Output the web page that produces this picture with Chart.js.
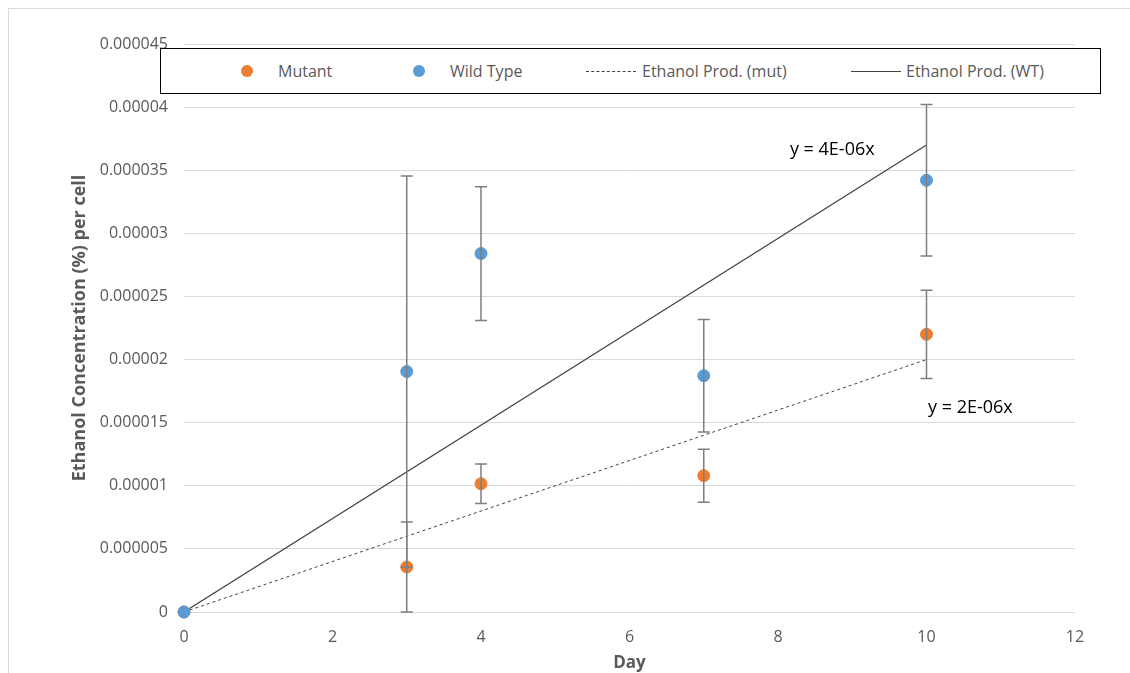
<!DOCTYPE html>
<html>
<head>
<meta charset="utf-8">
<script src="https://cdn.jsdelivr.net/npm/chart.js@4/dist/chart.umd.min.js"></script>
<style>
  html, body { margin: 0; padding: 0; background: #fff; }
  #wrap { position: relative; width: 1130px; height: 673px; overflow: hidden; }
  #frame { position: absolute; left: 8px; top: 8px; width: 1130px; height: 700px;
           border: 1px solid #d9d9d9; box-sizing: border-box; pointer-events: none; }
  #legend { position: absolute; left: 160px; top: 48px; width: 941px; height: 46px;
            border: 1.5px solid #000; box-sizing: border-box; background: #fff;
            font: 16px "Open Sans", sans-serif; color: #595959; }
  #legend span { position: absolute; top: 11px; white-space: nowrap; }
  .dot { position: absolute; top: 16px; width: 12px; height: 12px; border-radius: 50%; }
  .ln { position: absolute; top: 22px; width: 50px; height: 0; }
</style>
</head>
<body>
<div id="wrap">
  <canvas id="myChart" width="1130" height="673"></canvas>
  <div id="frame"></div>
  <div id="legend">
    <div class="dot" style="left:80px;background:#ed7d31"></div><span style="left:117px">Mutant</span>
    <div class="dot" style="left:252px;background:#5b9bd5"></div><span style="left:289px">Wild Type</span>
    <div class="ln" style="left:425px;border-top:1px dashed #404040"></div><span style="left:481px">Ethanol Prod. (mut)</span>
    <div class="ln" style="left:690px;border-top:1.3px solid #404040"></div><span style="left:745px">Ethanol Prod. (WT)</span>
  </div>
</div>
<script>
const DAYS = [0, 3, 4, 7, 10];
const MUTANT = [0, 0.00000357, 0.00001016, 0.00001080, 0.00002200];
const MUTANT_ERR = [0, 0.00000357, 0.00000157, 0.00000210, 0.00000350];
const WILD_TYPE = [0, 0.00001905, 0.00002840, 0.00001872, 0.00003420];
const WILD_TYPE_ERR = [0, 0.00001550, 0.00000530, 0.00000445, 0.00000600];
const TREND_X = [0, 10];
const TREND_MUT = [0, 0.0000200];
const TREND_WT = [0, 0.0000370];
const Y_TICKS = ['0', '0.000005', '0.00001', '0.000015', '0.00002', '0.000025', '0.00003', '0.000035', '0.00004', '0.000045'];
const EQUATIONS = [
    { text: 'y = 4E-06x', x: 8.16, y: 0.0000366 },
    { text: 'y = 2E-06x', x: 10.02, y: 0.0000162 },
];
const TEXT_COLOR = '#595959';
const FONT = '"Open Sans", sans-serif';

function toPoints(xs, ys) {
    return xs.map((x, i) => ({ x: x, y: ys[i] }));
}

const errorBars = {
    id: 'errorBars',
    afterDatasetsDraw(chart) {
        const ctx = chart.ctx;
        const xScale = chart.scales.x;
        const yScale = chart.scales.y;
        const sets = [[MUTANT, MUTANT_ERR], [WILD_TYPE, WILD_TYPE_ERR]];
        ctx.save();
        ctx.strokeStyle = '#7f7f7f';
        ctx.lineWidth = 1.5;
        sets.forEach(([vals, errs]) => {
            DAYS.forEach((d, i) => {
                if (!errs[i]) return;
                const px = xScale.getPixelForValue(d);
                const top = yScale.getPixelForValue(vals[i] + errs[i]);
                const bot = yScale.getPixelForValue(vals[i] - errs[i]);
                ctx.beginPath();
                ctx.moveTo(px, top); ctx.lineTo(px, bot);
                ctx.moveTo(px - 6, top); ctx.lineTo(px + 6, top);
                ctx.moveTo(px - 6, bot); ctx.lineTo(px + 6, bot);
                ctx.stroke();
            });
        });
        ctx.fillStyle = '#000';
        ctx.font = '18px ' + FONT;
        ctx.textBaseline = 'middle';
        EQUATIONS.forEach((eq) => {
            ctx.fillText(eq.text, xScale.getPixelForValue(eq.x), yScale.getPixelForValue(eq.y));
        });
        ctx.restore();
    }
};

const config = {
    type: 'scatter',
    data: {
        datasets: [
            {
                label: 'Ethanol Prod. (mut)',
                data: toPoints(TREND_X, TREND_MUT),
                showLine: true,
                borderColor: '#404040',
                borderWidth: 1,
                borderDash: [3, 3],
                pointRadius: 0,
                order: 3,
            },
            {
                label: 'Ethanol Prod. (WT)',
                data: toPoints(TREND_X, TREND_WT),
                showLine: true,
                borderColor: '#404040',
                borderWidth: 1.2,
                pointRadius: 0,
                order: 4,
            },
            {
                label: 'Mutant',
                data: toPoints(DAYS, MUTANT),
                backgroundColor: '#ed7d31',
                borderColor: '#ed7d31',
                pointRadius: 6,
                clip: false,
                order: 1,
            },
            {
                label: 'Wild Type',
                data: toPoints(DAYS, WILD_TYPE),
                backgroundColor: '#5b9bd5',
                borderColor: '#5b9bd5',
                pointRadius: 6,
                clip: false,
                order: 0,
            },
        ],
    },
    options: {
        responsive: false,
        animation: false,
        layout: { padding: { left: 0, top: 44, right: 55, bottom: 0 } },
        plugins: { legend: { display: false }, tooltip: { enabled: false } },
        scales: {
            x: {
                type: 'linear',
                min: 0,
                max: 12,
                ticks: { stepSize: 2, color: TEXT_COLOR, font: { family: FONT, size: 16 }, padding: 16 },
                grid: { display: false, drawTicks: false },
                border: { display: false },
                title: {
                    display: true,
                    text: 'Day',
                    color: TEXT_COLOR,
                    font: { family: FONT, size: 17, weight: 'bold' },
                    padding: { top: 0, bottom: 0 },
                },
                afterFit: (s) => { s.height = 61; },
            },
            y: {
                min: 0,
                max: 0.000045,
                ticks: {
                    stepSize: 0.000005,
                    color: TEXT_COLOR,
                    font: { family: FONT, size: 16 },
                    padding: 16,
                    callback: (v, i) => Y_TICKS[i],
                },
                grid: { color: '#d9d9d9', lineWidth: 1, drawTicks: false },
                border: { display: false },
                title: {
                    display: true,
                    text: 'Ethanol Concentration (%) per cell',
                    color: TEXT_COLOR,
                    font: { family: FONT, size: 18, weight: 'bold' },
                    padding: { top: 69, bottom: 0 },
                },
                afterFit: (s) => { s.width = 184; },
            },
        },
    },
    plugins: [errorBars],
};

const myChart = new Chart(document.querySelector('#myChart'), config);
</script>
</body>
</html>
